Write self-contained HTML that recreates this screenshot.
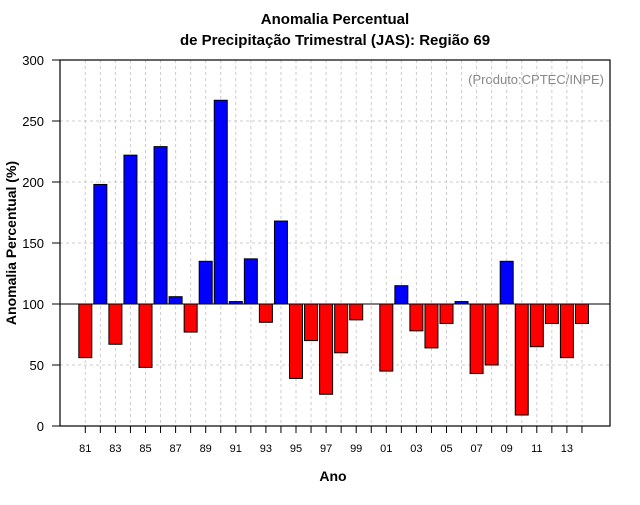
<!DOCTYPE html>
<html><head><meta charset="utf-8"><style>
body{margin:0;background:#fff;}
svg text{font-family:"Liberation Sans",sans-serif;}
</style></head><body>
<svg id="chart" width="640" height="500" xmlns="http://www.w3.org/2000/svg">
<text x="335" y="24" text-anchor="middle" font-size="15" font-weight="bold">Anomalia Percentual</text>
<text x="335" y="45" text-anchor="middle" font-size="15" font-weight="bold">de Precipitação Trimestral (JAS): Região 69</text>
<text x="604" y="84" text-anchor="end" font-size="13" fill="#888">(Produto:CPTEC/INPE)</text>
<text x="333" y="481" text-anchor="middle" font-size="14" font-weight="bold">Ano</text>
<text transform="translate(16,243) rotate(-90)" text-anchor="middle" font-size="14" font-weight="bold">Anomalia Percentual (%)</text>
<g id="grid"></g><g id="bars"></g><g id="axes"></g>
</svg>
<script>
const years = ["81","82","83","84","85","86","87","88","89","90","91","92","93","94","95","96","97","98","99","00","01","02","03","04","05","06","07","08","09","10","11","12","13","14"];
const values = [56,198,67,222,48,229,106,77,135,267,102,137,85,168,39,70,26,60,87,100,45,115,78,64,84,102,43,50,135,9,65,84,56,84];
const yTicks = [0,50,100,150,200,250,300];
const NS="http://www.w3.org/2000/svg";
const L=60,R=610,T=60,B=426;
const y=v=>B-(v/300)*(B-T);
const x=i=>85.3+i*15.05;
function mk(tag,attrs,parent){const e=document.createElementNS(NS,tag);for(const k in attrs)e.setAttribute(k,attrs[k]);parent.appendChild(e);return e;}
const grid=document.getElementById('grid'),bars=document.getElementById('bars'),axes=document.getElementById('axes');
yTicks.forEach(t=>{
  if(t>0&&t<300){const g=mk('line',{x1:L,x2:R,y1:y(t),y2:y(t),stroke:'#ccc','stroke-dasharray':'3,3'},grid);
  
  }
  const tk=mk('line',{x1:L-8,x2:L,y1:y(t),y2:y(t),stroke:'#000'},axes);
  
  
  const tl=mk('text',{x:L-16,y:y(t)+5,'text-anchor':'end','font-size':'13'},axes);
  tl.textContent=t;
  
  
});
years.forEach((yr,i)=>{
  const g=mk('line',{x1:x(i),x2:x(i),y1:T,y2:B,stroke:'#ccc','stroke-dasharray':'3,3'},grid);
  
  
  const v=values[i];
  if(v!==100){
    const top=Math.min(y(v),y(100)),h=Math.abs(y(v)-y(100));
    const b=mk('rect',{x:x(i)-6.5,y:top,width:13,height:h,fill:v>100?'#0000ff':'#ff0000',stroke:'#000','stroke-width':1},bars);
    
    
  }
  const tk=mk('line',{x1:x(i),x2:x(i),y1:B,y2:B+7,stroke:'#000'},axes);
  
  
  if(i%2===0){const tl=mk('text',{x:x(i),y:452,'text-anchor':'middle','font-size':'11'},axes);
  tl.textContent=yr;
  
  }
});
const base=mk('line',{x1:L,x2:R,y1:y(100),y2:y(100),stroke:'#000'},axes);


const box=mk('rect',{x:L,y:T,width:R-L,height:B-T,fill:'none',stroke:'#000','stroke-width':1.2},axes);


</script>
</body></html>
